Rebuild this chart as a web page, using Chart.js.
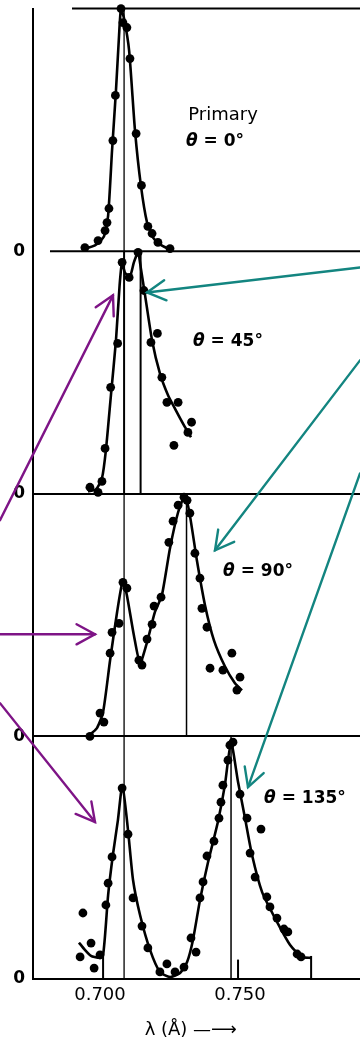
<!DOCTYPE html>
<html><head><meta charset="utf-8">
<script src="https://cdn.jsdelivr.net/npm/chart.js@4/dist/chart.umd.min.js"></script>
<style>html,body{margin:0;padding:0;background:#fff;overflow:hidden}#wrap{width:360px;height:1043px}</style>
</head><body><div id="wrap"><canvas id="c" width="360" height="1043"></canvas></div>
<script>
// ---------- data (wavelength in Å, relative intensity per panel) ----------
const panelLabels = ['θ = 0°', 'θ = 45°', 'θ = 90°', 'θ = 135°'];
const primaryTitle = 'Primary';
const xTickValues = [0.700, 0.750];
const xTickLabels = ['0.700', '0.750'];
const yTickLabel = '0';
const xTitle = 'λ (Å) —⟶  ';

const primaryLambda = 0.7086;
const shiftedLambda = [null, 0.7145, 0.7309, 0.7468];

// panel 1 (θ = 0°)
const p1PtsX = [0.6946,0.6993,0.7018,0.7025,0.7032,0.7046,0.7055,0.7075,0.7082,0.7096,0.7107,0.7129,0.7148,0.7171,0.7186,0.7207,0.7250];
const p1PtsY = [0.015,0.044,0.085,0.118,0.176,0.456,0.642,1.0,0.942,0.922,0.794,0.485,0.271,0.102,0.073,0.036,0.011];
const p1CurveX = [0.6936,0.6982,0.7014,0.7029,0.7043,0.7057,0.7068,0.7075,0.7086,0.7104,0.7125,0.7146,0.7168,0.7189,0.7214,0.7250];
const p1CurveY = [0.007,0.024,0.061,0.147,0.415,0.662,0.889,1.0,0.959,0.827,0.497,0.271,0.118,0.057,0.028,0.007];

// panel 2 (θ = 45°)
const p2PtsX = [0.6964,0.6993,0.7007,0.7018,0.7038,0.7063,0.7079,0.7104,0.7136,0.7157,0.7182,0.7205,0.7221,0.7239,0.7279,0.7264,0.7327,0.7314];
const p2PtsY = [0.027,0.006,0.051,0.187,0.439,0.620,0.954,0.892,0.995,0.838,0.624,0.661,0.480,0.377,0.377,0.200,0.295,0.253];
const p2CurveX = [0.6957,0.6986,0.7007,0.7021,0.7039,0.7057,0.7070,0.7079,0.7089,0.7107,0.7121,0.7136,0.7146,0.7161,0.7186,0.7214,0.7243,0.7271,0.7300,0.7325];
const p2CurveY = [0.010,0.019,0.064,0.179,0.406,0.632,0.859,0.954,0.912,0.896,0.954,0.995,0.929,0.818,0.632,0.496,0.406,0.344,0.282,0.233];

// panel 3 (θ = 90°)
const p3PtsX = [0.6964,0.7000,0.7014,0.7036,0.7043,0.7068,0.7082,0.7096,0.7139,0.7150,0.7168,0.7186,0.7193,0.7218,0.7246,0.7261,0.7279,0.7300,0.7311,0.7321,0.7339,0.7357,0.7364,0.7382,0.7393,0.7439,0.7471,0.7489,0.7500];
const p3PtsY = [0.0,0.096,0.059,0.343,0.429,0.466,0.635,0.611,0.314,0.294,0.401,0.462,0.537,0.574,0.800,0.887,0.953,0.986,0.973,0.920,0.755,0.652,0.528,0.450,0.281,0.273,0.343,0.191,0.244];
const p3CurveX = [0.6957,0.6989,0.7011,0.7036,0.7061,0.7082,0.7096,0.7121,0.7143,0.7168,0.7196,0.7221,0.7250,0.7279,0.7304,0.7321,0.7346,0.7375,0.7407,0.7446,0.7482,0.7507];
const p3CurveY = [0.0,0.034,0.100,0.314,0.512,0.644,0.582,0.417,0.302,0.388,0.512,0.582,0.776,0.924,0.994,0.911,0.726,0.541,0.396,0.289,0.219,0.190];

// panel 4 (θ = 135°)
const p4PtsX = [0.6939,0.6968,0.6929,0.6979,0.7000,0.7021,0.7029,0.7043,0.7079,0.7100,0.7118,0.7150,0.7171,0.7214,0.7239,0.7268,0.7300,0.7325,0.7343,0.7357,0.7368,0.7382,0.7407,0.7425,0.7432,0.7439,0.7457,0.7464,0.7475,0.7500,0.7525,0.7575,0.7536,0.7554,0.7596,0.7607,0.7632,0.7657,0.7671,0.7704,0.7718];
const p4PtsY = [0.272,0.148,0.091,0.045,0.099,0.305,0.395,0.503,0.787,0.597,0.334,0.218,0.128,0.029,0.062,0.029,0.049,0.169,0.111,0.334,0.400,0.507,0.568,0.663,0.729,0.799,0.902,0.964,0.976,0.762,0.663,0.618,0.519,0.420,0.338,0.297,0.251,0.206,0.194,0.103,0.091];
const p4CurveX = [0.6925,0.6946,0.6968,0.6993,0.7011,0.7029,0.7046,0.7064,0.7080,0.7100,0.7118,0.7143,0.7179,0.7214,0.7250,0.7286,0.7311,0.7332,0.7357,0.7386,0.7421,0.7446,0.7468,0.7493,0.7518,0.7543,0.7579,0.7625,0.7679,0.7721,0.7754];
const p4CurveY = [0.150,0.120,0.095,0.088,0.099,0.346,0.511,0.655,0.799,0.614,0.408,0.264,0.119,0.029,0.008,0.025,0.070,0.161,0.325,0.482,0.647,0.799,0.976,0.812,0.663,0.511,0.358,0.251,0.140,0.091,0.087];
const p4MarksX = [0.7011, 0.7493, 0.7754];
const p4MarksY = [0.107, 0.080, 0.095];

// ---------- building ----------
const pts = (xs, ys) => xs.map((x, i) => ({x, y: ys[i]}));
const panels = [
  {pts: pts(p1PtsX, p1PtsY), curve: pts(p1CurveX, p1CurveY)},
  {pts: pts(p2PtsX, p2PtsY), curve: pts(p2CurveX, p2CurveY)},
  {pts: pts(p3PtsX, p3PtsY), curve: pts(p3CurveX, p3CurveY)},
  {pts: pts(p4PtsX, p4PtsY), curve: pts(p4CurveX, p4CurveY)}
];

const datasets = [];
panels.forEach((p, i) => {
  const ax = 'p' + (i + 1);
  datasets.push({type: 'line', data: [{x: primaryLambda, y: 0}, {x: primaryLambda, y: 1}], yAxisID: ax,
    borderColor: '#000', borderWidth: i === 1 ? 2 : 1.3, pointRadius: 0, clip: false});
  if (shiftedLambda[i] !== null) {
    datasets.push({type: 'line', data: [{x: shiftedLambda[i], y: 0}, {x: shiftedLambda[i], y: 1}], yAxisID: ax,
      borderColor: '#000', borderWidth: i === 1 ? 2 : 1.5, pointRadius: 0, clip: false});
  }
  datasets.push({type: 'line', data: p.curve, yAxisID: ax, borderColor: '#000', borderWidth: 2.6,
    pointRadius: 0, tension: 0.2, clip: false});
  datasets.push({type: 'scatter', data: p.pts, yAxisID: ax, backgroundColor: '#000', borderWidth: 0,
    pointRadius: 4.4, showLine: false, clip: false});
});
p4MarksX.forEach((x, i) => {
  datasets.push({type: 'line', data: [{x, y: 0}, {x, y: p4MarksY[i]}], yAxisID: 'p4',
    borderColor: '#000', borderWidth: 2, pointRadius: 0, clip: false});
});

const scales = {
  x: {
    type: 'linear', position: 'bottom', min: 0.67607, max: 0.79286,
    afterBuildTicks: s => { s.ticks = xTickValues.map(v => ({value: v})); },
    afterFit: s => { s.height = 64; },
    ticks: {callback: (v, idx) => xTickLabels[idx], color: '#000', padding: 6,
      font: {family: 'DejaVu Sans', size: 18}, maxRotation: 0},
    grid: {display: false, drawTicks: false},
    border: {display: false},
    title: {display: true, text: xTitle, color: '#000', font: {family: 'DejaVu Sans', size: 18},
      padding: {top: 2, bottom: 2}}
  }
};
// grid lines of the top frame (panel 1 top & baseline) are drawn shorter by the frame plugin
const shortFrame = {p1: [1, 0], p2: [1]};
for (let i = 1; i <= 4; i++) {
  const id = 'p' + i;
  scales[id] = {
    type: 'linear', position: 'left', stack: 'panels', stackWeight: 1, weight: 5 - i,
    min: 0, max: 1,
    afterBuildTicks: s => { s.ticks = [{value: 0}, {value: 1}]; },
    afterFit: s => { s.width = 33; },
    ticks: {callback: v => (v === 0 ? yTickLabel : ''), color: '#000', padding: 8,
      font: c => (c.tick && c.tick.value === 1 ? {family: 'DejaVu Sans', size: 1}
                                                : {family: 'DejaVu Sans', size: 17, weight: 'bold'})},
    grid: {color: c => ((shortFrame[id] || []).includes(c.tick && c.tick.value) ? 'rgba(0,0,0,0)' : '#000'),
      lineWidth: 2, drawTicks: false},
    border: {color: '#000', width: 2}
  };
}
// short frame lines: [panel, value, lambda where the line begins]
const frameSpecs = [[1, 1, 0.6900], [1, 0, 0.68214]];

// annotation arrows & labels (in data coordinates: lambda, panel, relative intensity)
const PURPLE = '#7e1486', TEAL = '#138580';
const arrowSpecs = [
  {c: PURPLE, from: [0.66429, 3, 0.891], to: [0.70464, 2, 0.818]},
  {c: PURPLE, from: [0.66429, 3, 0.421], to: [0.69821, 3, 0.421]},
  {c: PURPLE, from: [0.66429, 3, 0.137], to: [0.69821, 4, 0.647]},
  {c: TEAL, from: [0.79286, 2, 0.933], to: [0.71679, 2, 0.830]},
  {c: TEAL, from: [0.79286, 2, 0.550], to: [0.74107, 3, 0.767]},
  {c: TEAL, from: [0.79286, 2, 0.084], to: [0.75286, 4, 0.791]}
];
const labelSpecs = [
  {parts: [[primaryTitle, 'normal', '']], at: [0.74393, 1, 0.559], size: 18},
  {parts: [['θ', 'bold', 'italic'], [panelLabels[0].slice(1), 'bold', '']], at: [0.74107, 1, 0.452], size: 17},
  {parts: [['θ', 'bold', 'italic'], [panelLabels[1].slice(1), 'bold', '']], at: [0.74571, 2, 0.628], size: 17},
  {parts: [['θ', 'bold', 'italic'], [panelLabels[2].slice(1), 'bold', '']], at: [0.75643, 3, 0.681], size: 17},
  {parts: [['θ', 'bold', 'italic'], [panelLabels[3].slice(1), 'bold', '']], at: [0.77321, 4, 0.742], size: 17}
];

const annot = {
  id: 'annot',
  beforeDatasetsDraw(chart) {
    const ctx = chart.ctx, sx = chart.scales.x;
    ctx.save();
    ctx.strokeStyle = '#000'; ctx.lineWidth = 2;
    frameSpecs.forEach(f => {
      const y = chart.scales['p' + f[0]].getPixelForValue(f[1]);
      ctx.beginPath(); ctx.moveTo(sx.getPixelForValue(f[2]), y); ctx.lineTo(chart.chartArea.right, y); ctx.stroke();
    });
    ctx.restore();
  },
  afterDraw(chart) {
    const ctx = chart.ctx, sx = chart.scales.x;
    const P = a => [sx.getPixelForValue(a[0]), chart.scales['p' + a[1]].getPixelForValue(a[2])];
    ctx.save();
    arrowSpecs.forEach(s => {
      const [x0, y0] = P(s.from), [x1, y1] = P(s.to);
      ctx.strokeStyle = s.c; ctx.lineWidth = 2.4; ctx.lineCap = 'round';
      ctx.beginPath(); ctx.moveTo(x0, y0); ctx.lineTo(x1, y1); ctx.stroke();
      const ang = Math.atan2(y0 - y1, x0 - x1), L = 21, h = 0.5;
      ctx.beginPath();
      ctx.moveTo(x1 + L * Math.cos(ang + h), y1 + L * Math.sin(ang + h));
      ctx.lineTo(x1, y1);
      ctx.lineTo(x1 + L * Math.cos(ang - h), y1 + L * Math.sin(ang - h));
      ctx.stroke();
    });
    ctx.fillStyle = '#000'; ctx.textBaseline = 'middle'; ctx.textAlign = 'left';
    labelSpecs.forEach(l => {
      const [cx, cy] = P(l.at);
      const fonts = l.parts.map(p => `${p[2]} ${p[1]} ${l.size}px "DejaVu Sans"`.trim());
      let w = 0;
      l.parts.forEach((p, i) => { ctx.font = fonts[i]; w += ctx.measureText(p[0]).width; });
      let x = cx - w / 2;
      l.parts.forEach((p, i) => { ctx.font = fonts[i]; ctx.fillText(p[0], x, cy); x += ctx.measureText(p[0]).width; });
    });
    ctx.restore();
  }
};

new Chart(document.getElementById('c'), {
  data: {datasets},
  options: {
    responsive: false, animation: false,
    layout: {autoPadding: false, padding: {top: 8, left: 0, right: 0, bottom: 0}},
    plugins: {legend: {display: false}, tooltip: {enabled: false}},
    scales
  },
  plugins: [annot]
});
</script></body></html>
